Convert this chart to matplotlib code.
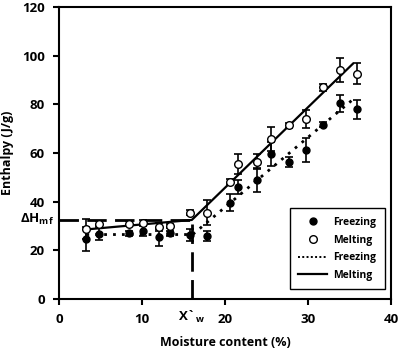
import numpy as np
import matplotlib
matplotlib.use("Agg")
from matplotlib import pyplot as plt
from matplotlib.transforms import blended_transform_factory
from matplotlib.lines import Line2D

plt.rcParams['font.family'] = ['Open Sans', 'DejaVu Sans']
plt.rcParams['font.weight'] = 'bold'
plt.rcParams['mathtext.fontset'] = 'custom'
plt.rcParams['mathtext.rm'] = 'Open Sans:bold'
plt.rcParams['mathtext.it'] = 'Open Sans:bold'
plt.rcParams['mathtext.bf'] = 'Open Sans:bold'

# measured points
moisture = [3.3, 4.8, 8.4, 10.1, 12.0, 13.4, 15.8, 17.8, 20.6, 21.6,
            23.8, 25.5, 27.7, 29.8, 31.8, 33.9, 35.9]
freezing = [24.6, 26.7, 27.0, 28.1, 25.4, 27.0, 26.3, 25.9, 39.6, 46.0,
            49.0, 59.7, 56.2, 61.3, 71.6, 80.5, 78.0]
freezing_err = [5.0, 2.5, 1.0, 2.0, 3.5, 1.0, 2.5, 2.0, 3.5, 3.0,
                5.0, 5.0, 2.0, 5.0, 1.0, 3.5, 4.0]
melting = [28.8, 30.9, 30.9, 31.4, 29.6, 30.0, 35.4, 35.5, 48.3, 55.5,
           56.5, 65.7, 71.4, 74.0, 87.1, 94.2, 92.6]
melting_err = [4.0, 1.0, 1.0, 1.0, 1.5, 1.0, 1.0, 5.0, 1.0, 4.0,
               3.0, 5.0, 1.0, 3.8, 1.5, 5.0, 4.4]

# fitted segments
fit_freeze_x = [3.3, 16.1, 35.4]
fit_freeze_y = [26.5, 26.5, 82.0]
fit_melt_x = [3.3, 16.0, 35.4]
fit_melt_y = [28.6, 32.5, 96.7]

# breakpoint
xw = 16.0
dh_mf = 32.5

fig = plt.figure(figsize=(4.0, 3.57), dpi=100)
ax = fig.add_axes([0.1475, 0.1625, 0.83, 0.8175])

ax.plot([0, xw], [dh_mf, dh_mf], color='black', lw=2, dashes=(7, 3))
ax.plot([xw, xw], [0, dh_mf], color='black', lw=2, dashes=(7, 3))

ax.plot(fit_freeze_x, fit_freeze_y, color='black', lw=2, ls=(0, (1, 2.2)))
ax.plot(fit_melt_x, fit_melt_y, color='black', lw=1.6)

ax.errorbar(moisture, freezing, yerr=freezing_err, fmt='o', color='black',
            mfc='black', mec='black', ms=5, capsize=3, elinewidth=1.2, capthick=1.2)
ax.errorbar(moisture, melting, yerr=melting_err, fmt='o', color='black',
            mfc='white', mec='black', ms=5.5, capsize=3, elinewidth=1.2, capthick=1.2)

ax.set_xlim(0, 40)
ax.set_ylim(0, 120)
ax.set_xticks([0, 10, 20, 30, 40])
ax.set_yticks([0, 20, 40, 60, 80, 100, 120])
ax.tick_params(labelsize=9.5, width=1.5, length=4, direction='out', pad=6)
for s in ax.spines.values():
    s.set_linewidth(1.5)
for lab in ax.get_xticklabels() + ax.get_yticklabels():
    lab.set_fontweight('bold')

ax.set_xlabel('Moisture content (%)', fontsize=9, fontweight='bold', labelpad=7)
ax.set_ylabel('Enthalpy (J/g)', fontsize=9, fontweight='bold', labelpad=6)

tr = blended_transform_factory(ax.transAxes, ax.transData)
ax.text(-0.015, dh_mf, r'ΔH$_{\mathbf{mf}}$', transform=tr, fontsize=9.5,
        fontweight='bold', ha='right', va='center', clip_on=False)
trx = blended_transform_factory(ax.transData, ax.transAxes)
ax.text(xw, -0.035, r'X`$_{\mathbf{w}}$', transform=trx, fontsize=9.5,
        fontweight='bold', ha='center', va='top', clip_on=False)

handles = [
    Line2D([], [], ls='none', marker='o', mfc='black', mec='black', ms=5),
    Line2D([], [], ls='none', marker='o', mfc='white', mec='black', ms=5.5),
    Line2D([], [], color='black', lw=1.4, ls=(0, (1, 1.2))),
    Line2D([], [], color='black', lw=1.6),
]
leg = ax.legend(handles, ['Freezing', 'Melting', 'Freezing', 'Melting'],
                loc='lower right', bbox_to_anchor=(0.997, 0.015), fancybox=False,
                edgecolor='black', fontsize=7.5, handlelength=2.8,
                handletextpad=0.6, labelspacing=0.65, borderpad=0.8,
                framealpha=1)
leg.get_frame().set_linewidth(1.0)
for t in leg.get_texts():
    t.set_fontweight('bold')

fig.savefig('out.png', dpi=100)
